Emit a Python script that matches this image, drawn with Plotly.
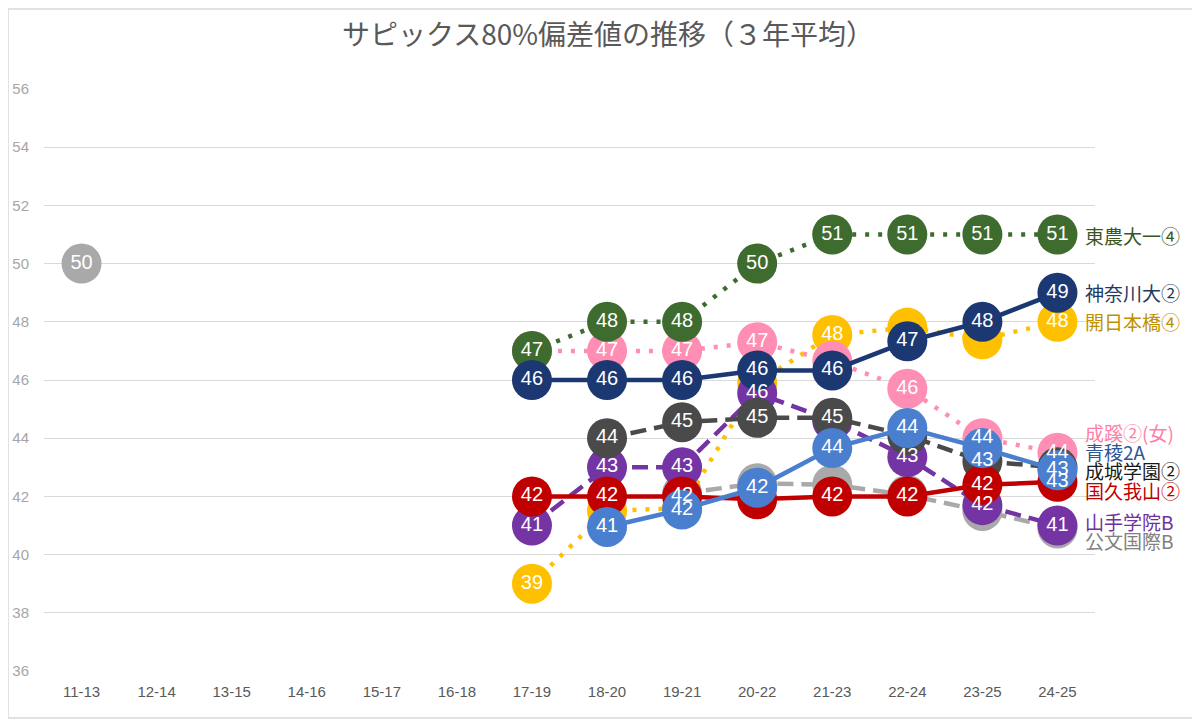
import math
import plotly.graph_objects as go

# 3-year average SAPIX 80% hensachi
periods = ["11-13", "12-14", "13-15", "14-16", "15-17", "16-18", "17-19",
           "18-20", "19-21", "20-22", "21-23", "22-24", "23-25", "24-25"]

kumon = [50.0, None, None, None, None, None, None, None, 42.1, 42.45, 42.4, 42.05, 41.5, 40.9]
kaichi = [None] * 6 + [39.0, 41.5, 41.6, 45.9, 47.55, 47.8, 47.4, 48.0]
seikei = [None] * 6 + [47.0, 47.0, 47.0, 47.3, 46.65, 45.7, 44.0, 43.5]
yamate = [None] * 6 + [41.0, 43.0, 43.0, 45.55, 44.6, 43.35, 41.7, 41.0]
seijo = [None] * 7 + [44.0, 44.55, 44.7, 44.7, 44.1, 43.2, 43.0]
kugayama = [None] * 6 + [42.0, 42.0, 42.0, 41.9, 42.0, 42.0, 42.4, 42.5]
seiryo = [None] * 7 + [40.95, 41.55, 42.3, 43.66, 44.35, 43.66, 42.9]
tonodai = [None] * 6 + [47.0, 48.0, 48.0, 50.0, 51.0, 51.0, 51.0, 51.0]
kanagawa = [None] * 6 + [46.0, 46.0, 46.0, 46.33, 46.33, 47.33, 48.0, 49.0]

# drawn bottom to top: name, values, colour, dash, label colour, label y
series = [
    ("公文国際B", kumon, "#a9a9a9", "16px,8px", "#808080", 40.5),
    ("開日本橋④", kaichi, "#ffc000", "4px,9px", "#bf9000", 48.0),
    ("成蹊②(女)", seikei, "#ff8db4", "4px,9px", "#ff7fa8", 44.2),
    ("山手学院B", yamate, "#7434a4", "16px,8px", "#7030a0", 41.15),
    ("成城学園②", seijo, "#4a4a4a", "16px,8px", "#1a1a1a", 42.9),
    ("国久我山②", kugayama, "#c00000", "solid", "#c00000", 42.2),
    ("青稜2A", seiryo, "#4a7fd0", "solid", "#2f5597", 43.56),
    ("東農大一④", tonodai, "#3e6b2e", "4px,9px", "#385723", 50.95),
    ("神奈川大②", kanagawa, "#1c3872", "solid", "#1f3864", 49.02),
]

# value labels that are covered up in the original chart
hidden_labels = {
    "公文国際B": ["19-21", "20-22", "21-23", "22-24", "23-25", "24-25"],
    "開日本橋④": ["18-20", "19-21", "20-22", "22-24", "23-25"],
    "成蹊②(女)": ["17-19", "21-23"],
    "山手学院B": ["21-23"],
    "成城学園②": ["22-24", "24-25"],
    "国久我山②": ["20-22"],
    "青稜2A": ["23-25"],
}


def label(v):
    return "" if v is None else str(int(math.floor(v + 0.5)))


fig = go.Figure()
for name, vals, color, dash, txtcolor, name_y in series:
    fig.add_trace(go.Scatter(
        x=periods, y=vals, name=name, mode="lines+markers",
        line=dict(color=color, width=4.5, dash=dash),
        marker=dict(color=color, size=40, line=dict(width=0)),
        connectgaps=False, hoverinfo="skip",
    ))
    fig.add_annotation(
        x=periods[-1], y=name_y, xref="x", yref="y", text=name,
        showarrow=False, xanchor="left", xshift=26,
        font=dict(color=txtcolor, size=19, family="Noto Sans CJK JP"),
    )

# data labels sit above all markers, like Excel draws them
for name, vals, color, dash, txtcolor, name_y in series:
    skip = hidden_labels.get(name, [])
    xs = [p for p, v in zip(periods, vals) if v is not None and p not in skip]
    ys = [v for p, v in zip(periods, vals) if v is not None and p not in skip]
    fig.add_trace(go.Scatter(
        x=xs, y=ys, mode="text", text=[label(v) for v in ys],
        textposition="middle center", cliponaxis=False,
        textfont=dict(color="white", size=20, family="Liberation Sans, Arial"),
        hoverinfo="skip",
    ))

# page has an 8px body margin, so margins are set relative to it
fig.update_layout(
    width=1200, height=721,
    margin=dict(l=36, r=113, t=81, b=58),
    paper_bgcolor="white", plot_bgcolor="white",
    showlegend=False,
    title=dict(text="サピックス80%偏差値の推移（３年平均）", x=0.5, xanchor="center",
               y=1 - 27 / 721, yanchor="middle",
               font=dict(size=28, color="#595959", family="Noto Sans CJK JP")),
    xaxis=dict(type="category", categoryorder="array", categoryarray=periods,
               range=[-0.5, 13.5], showgrid=False, zeroline=False,
               showline=False, ticks="", ticklabelstandoff=10, automargin=False,
               tickfont=dict(size=15, color="#595959", family="Liberation Sans, Arial")),
    yaxis=dict(range=[36, 56], dtick=2, showgrid=True, gridcolor="#d9d9d9", gridwidth=1,
               zeroline=False, showline=False, ticklabelstandoff=14, automargin=False,
               tickfont=dict(size=15, color="#a6a6a6", family="Liberation Sans, Arial")),
)

# light chart border
fig.add_shape(type="rect", xref="paper", yref="paper",
              x0=(0 - 36) / 1051, x1=(1188 - 36) / 1051,
              y0=-47 / 582, y1=1 + 80 / 582,
              line=dict(color="#d9d9d9", width=1.5), fillcolor="rgba(0,0,0,0)")

fig.write_html("out.html")
